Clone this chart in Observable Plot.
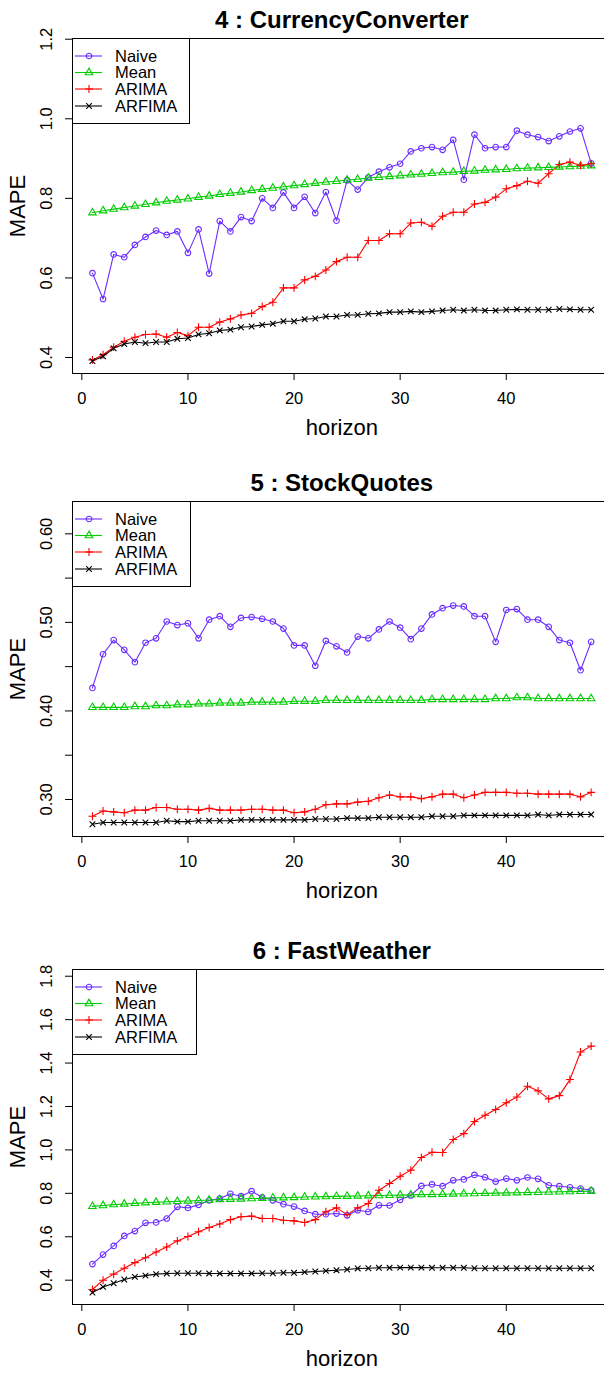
<!DOCTYPE html>
<html><head><meta charset="utf-8">
<script src="https://cdn.jsdelivr.net/npm/d3@7"></script>
<script src="https://cdn.jsdelivr.net/npm/@observablehq/plot@0.6"></script>
<style>
html,body{margin:0;padding:0;background:#fff;overflow:hidden;width:604px}
svg{display:block}
</style></head><body><div id="root"></div>
<script>
const horizon = [1,2,3,4,5,6,7,8,9,10,11,12,13,14,15,16,17,18,19,20,21,22,23,24,25,26,27,28,29,30,31,32,33,34,35,36,37,38,39,40,41,42,43,44,45,46,47,48];
const seriesNames = ["Naive","Mean","ARIMA","ARFIMA"];
const seriesColors = ["#6A2CFF","#00CC00","#FF0000","#000000"];
const xTicks = [0,10,20,30,40];

// 4 : CurrencyConverter
const ccNaive = [0.612,0.547,0.659,0.652,0.683,0.703,0.719,0.708,0.717,0.663,0.722,0.611,0.743,0.717,0.753,0.743,0.800,0.776,0.815,0.776,0.804,0.763,0.816,0.744,0.845,0.822,0.853,0.867,0.878,0.887,0.918,0.926,0.929,0.922,0.947,0.847,0.960,0.926,0.929,0.929,0.970,0.960,0.954,0.944,0.956,0.968,0.976,0.888];
const ccMean = [0.764,0.769,0.773,0.777,0.781,0.785,0.789,0.793,0.796,0.799,0.803,0.806,0.810,0.813,0.816,0.820,0.823,0.826,0.829,0.832,0.835,0.838,0.841,0.843,0.846,0.848,0.851,0.853,0.855,0.857,0.859,0.861,0.863,0.865,0.866,0.868,0.869,0.871,0.872,0.873,0.875,0.876,0.877,0.878,0.879,0.880,0.881,0.882];
const ccArima = [0.394,0.407,0.426,0.441,0.451,0.458,0.459,0.451,0.463,0.455,0.476,0.476,0.489,0.497,0.507,0.511,0.528,0.539,0.575,0.575,0.595,0.604,0.620,0.641,0.652,0.652,0.694,0.694,0.711,0.711,0.738,0.740,0.730,0.755,0.765,0.765,0.786,0.790,0.803,0.824,0.832,0.843,0.838,0.862,0.885,0.891,0.883,0.887];
const ccArfima = [0.391,0.403,0.423,0.434,0.439,0.436,0.439,0.439,0.447,0.449,0.458,0.461,0.468,0.470,0.476,0.478,0.482,0.485,0.491,0.491,0.496,0.498,0.503,0.503,0.507,0.507,0.510,0.511,0.514,0.514,0.516,0.514,0.516,0.518,0.520,0.518,0.520,0.518,0.518,0.520,0.521,0.520,0.520,0.520,0.522,0.521,0.520,0.520];
const ccYTicks = [0.4,0.6,0.8,1.0,1.2];
const ccYLabelTicks = [0.4,0.6,0.8,1.0,1.2];
const ccYLabels = ["0.4","0.6","0.8","1.0","1.2"];

// 5 : StockQuotes
const sqNaive = [0.426,0.464,0.480,0.469,0.455,0.477,0.482,0.501,0.497,0.499,0.482,0.503,0.507,0.495,0.505,0.506,0.504,0.501,0.493,0.474,0.474,0.451,0.479,0.473,0.466,0.484,0.482,0.492,0.501,0.494,0.481,0.493,0.509,0.516,0.519,0.518,0.507,0.507,0.478,0.514,0.515,0.503,0.503,0.495,0.480,0.477,0.446,0.478];
const sqMean = [0.404,0.404,0.404,0.404,0.405,0.405,0.406,0.406,0.407,0.407,0.408,0.408,0.409,0.409,0.409,0.410,0.410,0.410,0.410,0.411,0.411,0.411,0.412,0.412,0.412,0.412,0.412,0.412,0.412,0.412,0.412,0.412,0.413,0.413,0.413,0.413,0.413,0.413,0.414,0.414,0.415,0.415,0.414,0.414,0.414,0.414,0.414,0.414];
const sqArima = [0.281,0.287,0.286,0.285,0.288,0.288,0.291,0.291,0.289,0.289,0.288,0.290,0.288,0.288,0.288,0.289,0.289,0.288,0.288,0.285,0.286,0.289,0.294,0.295,0.295,0.297,0.298,0.302,0.305,0.303,0.303,0.301,0.303,0.306,0.306,0.302,0.305,0.308,0.308,0.308,0.307,0.307,0.306,0.306,0.306,0.306,0.303,0.308];
const sqArfima = [0.272,0.274,0.274,0.274,0.274,0.274,0.274,0.276,0.275,0.275,0.276,0.276,0.276,0.276,0.277,0.277,0.277,0.277,0.277,0.277,0.277,0.278,0.278,0.278,0.279,0.279,0.279,0.280,0.280,0.280,0.280,0.280,0.281,0.281,0.281,0.282,0.282,0.282,0.282,0.282,0.282,0.282,0.283,0.282,0.283,0.283,0.283,0.283];
const sqYTicks = [0.30,0.35,0.40,0.45,0.50,0.55,0.60];
const sqYLabelTicks = [0.30,0.40,0.50,0.60];
const sqYLabels = ["0.30","0.40","0.50","0.60"];

// 6 : FastWeather
const fwNaive = [0.474,0.518,0.558,0.604,0.626,0.664,0.666,0.684,0.738,0.733,0.747,0.767,0.776,0.798,0.787,0.810,0.782,0.768,0.750,0.739,0.719,0.704,0.704,0.707,0.699,0.722,0.715,0.745,0.744,0.770,0.790,0.834,0.841,0.833,0.860,0.864,0.885,0.874,0.854,0.868,0.860,0.873,0.867,0.837,0.833,0.828,0.822,0.814];
const fwMean = [0.740,0.744,0.748,0.751,0.754,0.757,0.759,0.761,0.763,0.765,0.767,0.769,0.771,0.773,0.774,0.776,0.777,0.779,0.780,0.781,0.783,0.784,0.785,0.786,0.787,0.788,0.789,0.790,0.791,0.792,0.793,0.794,0.795,0.796,0.797,0.798,0.799,0.800,0.801,0.802,0.803,0.804,0.805,0.806,0.807,0.808,0.809,0.810];
const fwArima = [0.357,0.400,0.428,0.455,0.481,0.503,0.530,0.553,0.581,0.601,0.623,0.643,0.659,0.679,0.692,0.695,0.684,0.684,0.676,0.673,0.666,0.679,0.715,0.733,0.702,0.733,0.753,0.814,0.845,0.879,0.907,0.965,0.989,0.988,1.048,1.075,1.131,1.160,1.186,1.217,1.244,1.293,1.272,1.235,1.250,1.324,1.451,1.478];
const fwArfima = [0.343,0.369,0.386,0.403,0.415,0.421,0.428,0.431,0.432,0.432,0.432,0.431,0.431,0.431,0.431,0.431,0.432,0.432,0.434,0.434,0.437,0.440,0.443,0.446,0.449,0.454,0.455,0.457,0.457,0.458,0.458,0.458,0.457,0.457,0.457,0.457,0.455,0.455,0.455,0.455,0.455,0.455,0.455,0.455,0.455,0.455,0.455,0.455];
const fwYTicks = [0.4,0.6,0.8,1.0,1.2,1.4,1.6,1.8];
const fwYLabelTicks = [0.4,0.6,0.8,1.0,1.2,1.4,1.6,1.8];
const fwYLabels = ["0.4","0.6","0.8","1.0","1.2","1.4","1.6","1.8"];

const FONT = "'Liberation Sans', Arial, Helvetica, sans-serif";

// R-like plotting symbols (pch 1, 2, 3, 4)
const symCircle = {draw(c, s){const r=Math.sqrt(s/Math.PI); c.moveTo(r,0); c.arc(0,0,r,0,2*Math.PI);}};
const symTriangle = {draw(c, s){const r=Math.sqrt(s/Math.PI); const xc=1.3468*r, top=1.5551*r, yc=0.7776*r; c.moveTo(0,-top); c.lineTo(xc,yc); c.lineTo(-xc,yc); c.closePath();}};
const symPlus = {draw(c, s){const r=Math.sqrt(s/Math.PI)*Math.SQRT2; c.moveTo(-r,0); c.lineTo(r,0); c.moveTo(0,-r); c.lineTo(0,r);}};
const symTimes = {draw(c, s){const r=Math.sqrt(s/Math.PI); c.moveTo(-r,-r); c.lineTo(r,r); c.moveTo(-r,r); c.lineTo(r,-r);}};
const syms = [symCircle, symTriangle, symPlus, symTimes];
const DOT_R = 2.8;

const panels = [
  {title:"4 : CurrencyConverter", series:[ccNaive,ccMean,ccArima,ccArfima], yDomain:[0.3598,1.2018], yTicks:ccYTicks, yLabelTicks:ccYLabelTicks, yLabels:ccYLabels, height:460, mt:38, mb:87, legendW:117},
  {title:"5 : StockQuotes", series:[sqNaive,sqMean,sqArima,sqArfima], yDomain:[0.2582,0.6365], yTicks:sqYTicks, yLabelTicks:sqYLabelTicks, yLabels:sqYLabels, height:470, mt:41, mb:94, legendW:118},
  {title:"6 : FastWeather", series:[fwNaive,fwMean,fwArima,fwArfima], yDomain:[0.288,1.831], yTicks:fwYTicks, yLabelTicks:fwYLabelTicks, yLabels:fwYLabels, height:443, mt:39, mb:69, legendW:124}
];

const ML = 72, W = 604, MR = -6.6;

function makePanel(cfg){
  const rows = [];
  cfg.series.forEach((vals, si) => vals.forEach((v, i) => rows.push({h: horizon[i], v, series: seriesNames[si]})));
  const svg = Plot.plot({
    width: W, height: cfg.height,
    marginLeft: ML, marginRight: MR, marginTop: cfg.mt, marginBottom: cfg.mb,
    style: {fontFamily: FONT, fontSize: "16.5px", color: "black", background: "white"},
    x: {domain: [-0.88, 49.88], label: null},
    y: {domain: cfg.yDomain, label: null},
    color: {domain: seriesNames, range: seriesColors},
    marks: [
      Plot.axisX({ticks: xTicks, tickSize: 7, tickPadding: 12, fontSize: 16.5, label: null, stroke: "black"}),
      Plot.axisY({ticks: cfg.yTicks, tickSize: 7, tickFormat: () => "", label: null, stroke: "black"}),
      Plot.text(cfg.yLabelTicks, {y: d => d, text: (d, i) => cfg.yLabels[i], frameAnchor: "left", dx: -25.5, rotate: -90, textAnchor: "middle", lineAnchor: "middle", fontSize: 16.5, fill: "black"}),
      Plot.line(rows, {x: "h", y: "v", z: "series", stroke: "series", strokeWidth: 1.1}),
      ...seriesNames.map((s, si) => Plot.dot(rows.filter(r => r.series === s), {x: "h", y: "v", r: DOT_R, symbol: syms[si], stroke: seriesColors[si], fill: "none", strokeWidth: 1.1})),
      Plot.frame({stroke: "black", strokeWidth: 1}),
      Plot.text([cfg.title], {text: d => d, frameAnchor: "top", dy: -11, lineAnchor: "bottom", fontWeight: "bold", fontSize: 24, fill: "black"}),
      Plot.text(["horizon"], {text: d => d, frameAnchor: "bottom", dy: 61.7, lineAnchor: "bottom", fontSize: 22, fill: "black"}),
      Plot.text(["MAPE"], {text: d => d, frameAnchor: "left", dx: -55, rotate: -90, textAnchor: "middle", lineAnchor: "middle", fontSize: 22, fill: "black"})
    ]
  });
  // legend (top-left, inside the plot box)
  const T = cfg.mt, L = ML;
  const g = d3.select(svg).append("g").attr("font-family", FONT).attr("font-size", 16.5).attr("text-anchor", "start");
  g.append("rect").attr("x", L + 0.5).attr("y", T + 0.5).attr("width", cfg.legendW).attr("height", 85)
    .attr("fill", "white").attr("stroke", "black");
  const rowY = [18, 34.5, 51, 68];
  seriesNames.forEach((s, si) => {
    const y = T + rowY[si];
    g.append("line").attr("x1", L + 3).attr("x2", L + 30).attr("y1", y).attr("y2", y).attr("stroke", seriesColors[si]).attr("stroke-width", 1.1);
    g.append("path").attr("d", d3.symbol(syms[si], Math.PI * DOT_R * DOT_R)()).attr("transform", `translate(${L + 17},${y})`)
      .attr("fill", "none").attr("stroke", seriesColors[si]).attr("stroke-width", 1.1);
    g.append("text").attr("x", L + 43).attr("y", y).attr("dy", "0.35em").attr("text-anchor", "start").attr("fill", "black").text(s);
  });
  return svg;
}

const root = document.getElementById("root");
panels.forEach(p => root.appendChild(makePanel(p)));
</script>
</body></html>
